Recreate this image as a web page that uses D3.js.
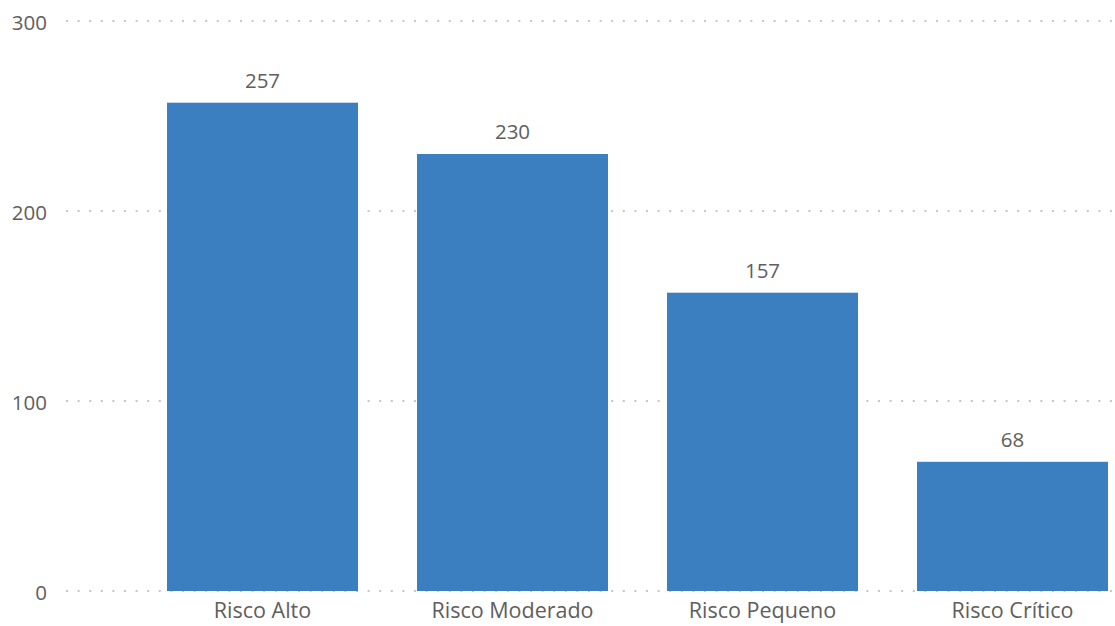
<!DOCTYPE html>
<html><head><meta charset="utf-8">
<script src="https://cdn.jsdelivr.net/npm/d3@7"></script>
<style>body{margin:0;background:#fff}svg{display:block}</style>
</head><body>
<script>
const categories = ["Risco Alto", "Risco Moderado", "Risco Pequeno", "Risco Crítico"];
const values = [257, 230, 157, 68];
const yTicks = [0, 100, 200, 300];

const W = 1115, H = 626;
const svg = d3.select("body").append("svg").attr("width", W).attr("height", H);
const font = "'Open Sans', 'Noto Sans', sans-serif";
const textColor = "#605e5c";

const y = d3.scaleLinear().domain([0, 300]).range([591, 21]);
const x = d3.scaleBand().domain(categories).range([137.5, 1137.5]).paddingInner(0.236).paddingOuter(0.118);

// grid
svg.append("g").selectAll("line").data(yTicks).join("line")
  .attr("x1", 66).attr("x2", W).attr("y1", d => y(d)).attr("y2", d => y(d))
  .attr("stroke", "#c8c6c4").attr("stroke-width", 2).attr("stroke-dasharray", "2 9.6");

// y axis
const yAxis = d3.axisLeft(y).tickValues(yTicks).tickSize(0).tickPadding(0);
const gy = svg.append("g").attr("transform", "translate(47,1.5)").call(yAxis);
gy.select(".domain").remove();
gy.selectAll("text").attr("font-family", font).attr("font-size", 20.5).attr("fill", textColor);

// bars
svg.append("g").selectAll("rect").data(values).join("rect")
  .attr("x", (d, i) => x(categories[i])).attr("width", x.bandwidth())
  .attr("y", d => y(d)).attr("height", d => y(0) - y(d))
  .attr("fill", "#3b7fc1");

// value labels
svg.append("g").selectAll("text").data(values).join("text")
  .attr("x", (d, i) => x(categories[i]) + x.bandwidth() / 2)
  .attr("y", d => y(d) - 22).attr("dy", "0.35em")
  .attr("text-anchor", "middle").attr("font-family", font).attr("font-size", 20.5)
  .attr("fill", textColor).text(d => d);

// x axis
const xAxis = d3.axisBottom(x).tickSize(0).tickPadding(0);
const gx = svg.append("g").attr("transform", "translate(0,603)").call(xAxis);
gx.select(".domain").remove();
gx.selectAll("text").attr("font-family", font).attr("font-size", 21.5).attr("fill", textColor);
</script>
</body></html>
